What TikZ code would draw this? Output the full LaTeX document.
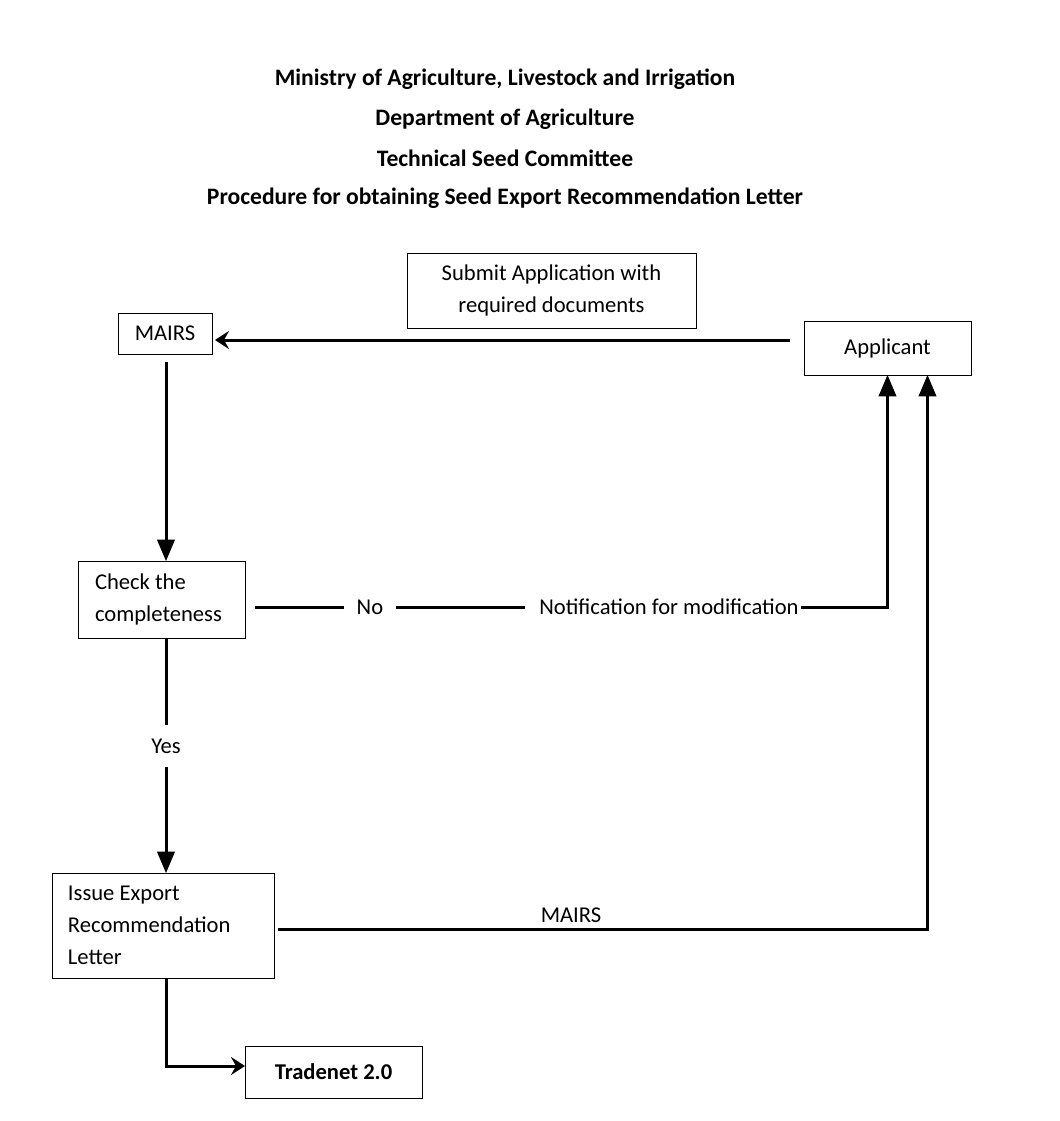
\documentclass[tikz,border=0pt]{standalone}
\usepackage{fontspec}
\setmainfont{Carlito}
\usetikzlibrary{shapes,arrows,arrows.meta}

\begin{document}
\begin{tikzpicture}[x=0.5pt, y=-0.5pt, auto]%
  \tikzset{normal arrow/.style={draw,-triangle 45,line width=1.5pt,black}}
  \tikzset{barb arrow/.style={draw,-{Stealth[length=7pt,width=9pt,inset=2.5pt]},line width=1.5pt,black}}
  \tikzset{plain line/.style={draw,line width=1.5pt,black}}
  \tikzstyle{every node}=[font=\fontsize{11.3}{16}\selectfont, inner sep=0pt, outer sep=0pt]
  \tikzstyle{box}=[draw, line width=0.5pt]
  \tikzstyle{heading}=[font=\fontsize{11.8}{16}\selectfont\bfseries]
  \useasboundingbox (0,0) rectangle (1060,1121);

  % heading
  \node[heading] at (505,79) (title1) {Ministry of Agriculture, Livestock and Irrigation};
  \node[heading] at (505,119) (title2) {Department of Agriculture};
  \node[heading] at (505,158) (title3) {Technical Seed Committee};
  \node[heading] at (505,198) (title4) {Procedure for obtaining Seed Export Recommendation Letter};

  % boxes
  \node[box, minimum width=144.5pt, minimum height=37.5pt, align=center] at (551.5,290.5) (Submit) {Submit Application with\\required documents};
  \node[box, minimum width=47pt, minimum height=20.5pt] at (165,333.5) (MAIRS) {MAIRS};
  \node[box, minimum width=83.5pt, minimum height=27pt] at (887.5,348) (Applicant) {Applicant};
  \node[box, text width=66.5pt, inner xsep=8.5pt, minimum height=38.5pt, align=flush left] at (161.5,599.5) (Check) {Check the\\completeness};
  \node[box, text width=95pt, inner xsep=8pt, minimum height=52.5pt, align=flush left] at (163,925.5) (Issue) {Issue Export\\Recommendation\\Letter};
  \node[box, minimum width=88.5pt, minimum height=26pt, font=\fontsize{11.3}{16}\selectfont\bfseries] at (333.5,1072) (Tradenet) {Tradenet 2.0};

  % labels on the lines
  \node[inner xsep=6.5pt, inner ysep=3pt] at (370,607) (No) {No};
  \node[inner xsep=1pt] at (669,607) (Notif) {Notification for modification};
  \node[inner ysep=7pt] at (166,746) (Yes) {Yes};
  \node at (571,915) (lblMAIRS) {MAIRS};
  \coordinate (m1) at (790,340);

  \path[barb arrow, shorten >=1.5pt] (m1) -- (MAIRS.east |- m1);
  \path[normal arrow, shorten <=4pt] ([xshift=0.5pt]MAIRS.south) -- ([xshift=0.5pt]MAIRS.south |- Check.north);
  \path[plain line, shorten <=5pt] ([yshift=-3.75pt]Check.east) -- (No.west);
  \path[plain line] (No.east) -- ([xshift=-6pt]Notif.west);
  \path[normal arrow] (Notif.east) -| (Applicant.south);
  \path[plain line] ([xshift=2.25pt]Check.south) -- (Yes.north);
  \path[normal arrow] (Yes.south) -- (Yes.south |- Issue.north);
  \path[normal arrow, shorten <=2pt] ([yshift=-1.75pt]Issue.east) -| ([xshift=20pt]Applicant.south);
  \path[barb arrow] ([xshift=1.5pt]Issue.south) |- ([yshift=3pt]Tradenet.west);
\end{tikzpicture}
\end{document}
